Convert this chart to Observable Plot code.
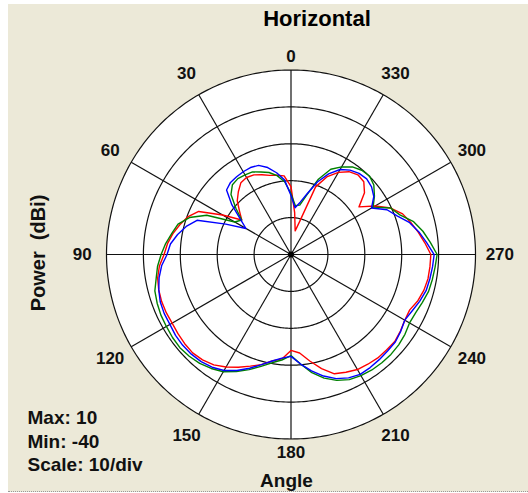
<!DOCTYPE html>
<html><head><meta charset="utf-8">
<script src="https://cdn.jsdelivr.net/npm/d3@7"></script>
<script src="https://cdn.jsdelivr.net/npm/@observablehq/plot@0.6"></script>
<style>
html,body{margin:0;padding:0;background:#fff;}
#wrap{position:absolute;left:8px;top:4px;width:520px;height:487px;background:#ece9d8;border-bottom:1px dotted #9a9a9a;}
#wrap svg{display:block;}
</style></head><body><div id="wrap"></div>
<script>
// ---- data ----
const angles = [0,5,10,15,20,25,30,35,40,45,50,55,60,65,70,75,80,85,90,95,100,105,110,115,120,125,130,135,140,145,150,155,160,165,170,175,180,185,190,195,200,205,210,215,220,225,230,235,240,245,250,255,260,265,270,275,280,285,290,295,300,305,310,315,320,325,330,335,340,345,350,355];
const red = [-21.6,-18.6,-18.2,-17.8,-17.0,-16.2,-15.9,-16.3,-17.8,-19.4,-21.8,-23.7,-18.6,-12.4,-10.2,-8.8,-7.5,-6.4,-5.6,-4.2,-3.3,-2.9,-2.7,-2.7,-2.8,-2.6,-2.4,-2.3,-2.7,-3.5,-4.8,-6.3,-7.8,-9.1,-10.7,-11.6,-14.0,-13.2,-10.7,-8.0,-5.6,-4.8,-4.0,-3.7,-3.4,-3.4,-3.3,-3.8,-4.4,-4.5,-3.4,-2.7,-2.3,-2.2,-2.1,-3.6,-5.0,-6.4,-7.8,-10.2,-13.7,-17.5,-14.0,-12.1,-11.8,-12.6,-14.3,-16.7,-20.5,-30.5,-33.5,-28.6];
const green = [-23.5,-20.2,-18.3,-17.0,-16.2,-15.3,-15.1,-14.9,-15.3,-17.0,-20.5,-23.7,-22.4,-14.8,-10.7,-8.3,-7.2,-5.9,-4.8,-3.7,-2.9,-1.8,-1.4,-1.1,-1.0,-0.8,-0.7,-1.0,-1.5,-2.3,-3.3,-5.0,-6.8,-8.6,-10.2,-11.3,-12.6,-10.2,-7.5,-5.3,-3.7,-2.6,-2.1,-1.8,-1.7,-1.7,-1.9,-2.3,-2.9,-2.7,-2.1,-1.4,-1.1,-0.8,-0.4,-2.1,-3.7,-5.6,-8.6,-10.2,-14.3,-12.4,-10.7,-9.9,-10.2,-11.0,-12.6,-14.5,-18.3,-23.2,-26.4,-26.7];
const blue = [-24.0,-19.7,-17.5,-15.6,-14.3,-14.0,-14.1,-14.3,-14.5,-15.3,-19.1,-23.2,-25.9,-20.5,-12.9,-10.6,-8.8,-7.2,-6.4,-4.8,-3.7,-2.9,-2.3,-2.1,-2.1,-1.8,-1.7,-1.8,-2.1,-2.7,-3.7,-5.3,-7.2,-9.1,-10.7,-11.8,-12.4,-10.2,-8.0,-5.9,-4.2,-3.1,-2.5,-2.6,-2.8,-3.0,-3.1,-3.7,-4.4,-3.8,-2.9,-2.1,-1.8,-1.5,-1.2,-3.1,-4.8,-6.7,-9.4,-11.3,-14.8,-12.6,-11.5,-11.0,-11.3,-12.1,-13.4,-15.9,-19.1,-22.9,-25.6,-27.3];
const seriesNames = ["red","green","blue"];
const seriesColors = ["#ff0000","#00ff00","#0000ff"];
const ringValues = [-30,-20,-10,0,10];
const spokeAngles = [0,30,60,90,120,150,180,210,240,270,300,330];
const angleLabels = ["0","30","60","90","120","150","180","210","240","270","300","330"];
const minDb = -40, maxDb = 10;
const titleText = "Horizontal";
const xTitle = "Angle";
const yTitle = "Power  (dBi)";
const statLines = ["Max: 10","Min: -40","Scale: 10/div"];

// ---- geometry ----
const W = 520, H = 487, CX = 282.5, CY = 250, PX = 184.5 / (maxDb - minDb);
const FONT = "'Liberation Sans', Arial, Helvetica, sans-serif";
function pt(a, db) {
  const r = db - minDb, t = a * Math.PI / 180;
  return {x: -r * Math.sin(t), y: r * Math.cos(t)};
}
const seriesVals = [red, green, blue];
const seriesRows = [];
seriesNames.forEach((s, i) => angles.forEach((a, j) => seriesRows.push({series: s, ...pt(a, seriesVals[i][j])})));
const circleSteps = d3.range(0, 360, 1);
const ringRows = [];
ringValues.forEach(v => circleSteps.forEach(a => ringRows.push({ring: v, ...pt(a, v)})));
const discRows = circleSteps.map(a => pt(a, maxDb));
const labelRows = spokeAngles.map((a, i) => {
  const extra = (a % 180 === 0) ? 53.7 : 56.6; // label radius (units from centre)
  const t = a * Math.PI / 180;
  return {label: angleLabels[i], x: -extra * Math.sin(t), y: extra * Math.cos(t)};
});

const chart = Plot.plot({
  width: W, height: H,
  marginTop: 0, marginRight: 0, marginBottom: 0, marginLeft: 0,
  x: {domain: [-CX / PX, (W - CX) / PX], range: [0, W], axis: null},
  y: {domain: [-(H - CY) / PX, CY / PX], range: [H, 0], axis: null},
  color: {domain: seriesNames, range: seriesColors},
  style: {background: "transparent", fontFamily: FONT, overflow: "visible", whiteSpace: "pre"},
  marks: [
    Plot.line(discRows, {x: "x", y: "y", curve: "linear-closed", fill: "#ffffff", stroke: "none"}),
    Plot.line(ringRows, {x: "x", y: "y", z: "ring", curve: "linear-closed", stroke: "#111", strokeWidth: 1.2}),
    Plot.link(spokeAngles, {x1: () => 0, y1: () => 0, x2: a => pt(a, maxDb).x, y2: a => pt(a, maxDb).y, stroke: "#111", strokeWidth: 1.2}),
    Plot.line(seriesRows, {x: "x", y: "y", z: "series", stroke: "series", curve: "linear-closed", strokeWidth: 1.4}),
    Plot.dot([{x: 0, y: 0}], {x: "x", y: "y", r: 3, fill: "#000", stroke: "none"}),
    Plot.text(labelRows, {x: "x", y: "y", text: "label", fontSize: 17, fontWeight: "bold", fill: "#111", textAnchor: "middle", lineAnchor: "middle", letterSpacing: "0.5px"}),
    Plot.text([titleText], {text: d => d, frameAnchor: "top-left", dx: 308.5, dy: 6, textAnchor: "middle", lineAnchor: "top", fontSize: 22, fontWeight: "bold", fill: "#000", letterSpacing: "0.8px"}),
    Plot.text([xTitle], {text: d => d, frameAnchor: "top-left", dx: 278, dy: 469, textAnchor: "middle", lineAnchor: "top", fontSize: 19, fontWeight: "bold", fill: "#111"}),
    Plot.text([yTitle], {text: d => d, frameAnchor: "top-left", dx: 30, dy: 248.5, rotate: -90, textAnchor: "middle", lineAnchor: "middle", fontSize: 20, fontWeight: "bold", fill: "#111"}),
    Plot.text([statLines.join("\n")], {text: d => d, frameAnchor: "top-left", dx: 19, dy: 403, textAnchor: "start", lineAnchor: "top", lineHeight: 23.5 / 19, fontSize: 19, fontWeight: "bold", fill: "#111", letterSpacing: "0.4px"})
  ]
});
document.getElementById("wrap").appendChild(chart);
</script>
</body></html>
